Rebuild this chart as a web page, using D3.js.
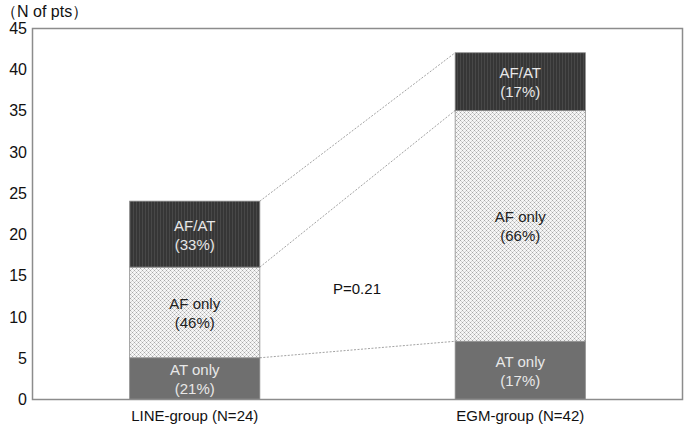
<!DOCTYPE html>
<html><head><meta charset="utf-8">
<script src="https://cdn.jsdelivr.net/npm/d3@7"></script>
<style>body{margin:0;background:#fff}svg{display:block}text{font-family:"Liberation Sans",Arial,sans-serif}</style>
</head><body>
<script>
const groups = ["LINE-group (N=24)", "EGM-group (N=42)"];
const segments = ["AT only", "AF only", "AF/AT"];
const atOnly = [5, 7];
const afOnly = [11, 28];
const afat = [8, 7];
const pctAtOnly = ["(21%)", "(17%)"];
const pctAfOnly = ["(46%)", "(66%)"];
const pctAfat = ["(33%)", "(17%)"];
const yTicks = [0, 5, 10, 15, 20, 25, 30, 35, 40, 45];
const pText = "P=0.21";
const yUnit = "（N of pts）";

const W = 685, H = 429;
const m = {l: 32, r: 2, t: 28, b: 30};
const svg = d3.select("body").append("svg").attr("width", W).attr("height", H);
const defs = svg.append("defs");
// dark vertical-stripe pattern
const p1 = defs.append("pattern").attr("id","pDark").attr("patternUnits","userSpaceOnUse").attr("width",3).attr("height",3);
p1.append("rect").attr("width",3).attr("height",3).attr("fill","#363636");
p1.append("rect").attr("x",1).attr("width",1).attr("height",3).attr("fill","#484848");
// light dotted pattern
const p2 = defs.append("pattern").attr("id","pLight").attr("patternUnits","userSpaceOnUse").attr("width",4).attr("height",4);
p2.append("rect").attr("width",4).attr("height",4).attr("fill","#f6f6f6");
[[0,0,"#a8a8a8"],[2,2,"#a8a8a8"],[1,1,"#d4d4d4"],[3,3,"#d4d4d4"],[3,1,"#d4d4d4"],[1,3,"#d4d4d4"]].forEach(([px,py,c]) =>
  p2.append("rect").attr("x",px).attr("y",py).attr("width",1).attr("height",1).attr("fill",c));

const x = d3.scaleBand().domain(groups).range([m.l, W - m.r]).paddingInner(0.6).paddingOuter(0.3);
const y = d3.scaleLinear().domain([0, 45]).range([H - m.b, m.t]);

// plot frame
svg.append("rect").attr("x", m.l + 0.5).attr("y", y(45) + 0.5)
  .attr("width", W - m.r - m.l - 1).attr("height", y(0) - y(45))
  .attr("fill","none").attr("stroke","#8c8c8c").attr("stroke-width",1.5);

const data = groups.map((g, i) => ({g, vals: [atOnly[i], afOnly[i], afat[i]], pcts: [pctAtOnly[i], pctAfOnly[i], pctAfat[i]]}));
const fills = ["#6f6f6f", "url(#pLight)", "url(#pDark)"];
const txtColor = ["#e8e8e8", "#222", "#e8e8e8"];

data.forEach(d => {
  let cum = 0;
  d.vals.forEach((v, k) => {
    const y0 = y(cum), y1 = y(cum + v);
    svg.append("rect").attr("x", x(d.g)).attr("y", y1).attr("width", x.bandwidth()).attr("height", y0 - y1)
      .attr("fill", fills[k]).attr("stroke", "#8c8c8c").attr("stroke-width", 0.8);
    const cx = x(d.g) + x.bandwidth() / 2, cy = (y0 + y1) / 2;
    const t = svg.append("text").attr("x", cx).attr("text-anchor","middle").attr("font-size",15).attr("fill", txtColor[k]);
    t.append("tspan").attr("x", cx).attr("y", cy - 3.5).text(segments[k]);
    t.append("tspan").attr("x", cx).attr("y", cy + 15.5).text(d.pcts[k]);
    cum += v;
  });
});

// connector lines
const cum0 = d3.cumsum(data[0].vals), cum1 = d3.cumsum(data[1].vals);
[0,1,2].forEach(k => {
  svg.append("line")
    .attr("x1", x(groups[0]) + x.bandwidth()).attr("y1", y(cum0[k]))
    .attr("x2", x(groups[1])).attr("y2", y(cum1[k]))
    .attr("stroke","#8a8a8a").attr("stroke-width",0.8).attr("stroke-dasharray","2,1.5");
});

// y ticks labels
svg.append("g").selectAll("text").data(yTicks).join("text")
  .attr("x", 27).attr("y", d => y(d) + 6).attr("text-anchor","end").attr("font-size",16).attr("fill","#111").text(d => d);

// x labels
svg.append("g").selectAll("text").data(groups).join("text")
  .attr("x", d => x(d) + x.bandwidth()/2).attr("y", 421).attr("text-anchor","middle").attr("font-size",15).attr("fill","#111").text(d => d);

svg.append("text").attr("x", 1).attr("y", 17).attr("font-size",16).attr("fill","#111").text(yUnit);
svg.append("text").attr("x", 357).attr("y", 294).attr("text-anchor","middle").attr("font-size",15).attr("fill","#111").text(pText);
</script>
</body></html>
